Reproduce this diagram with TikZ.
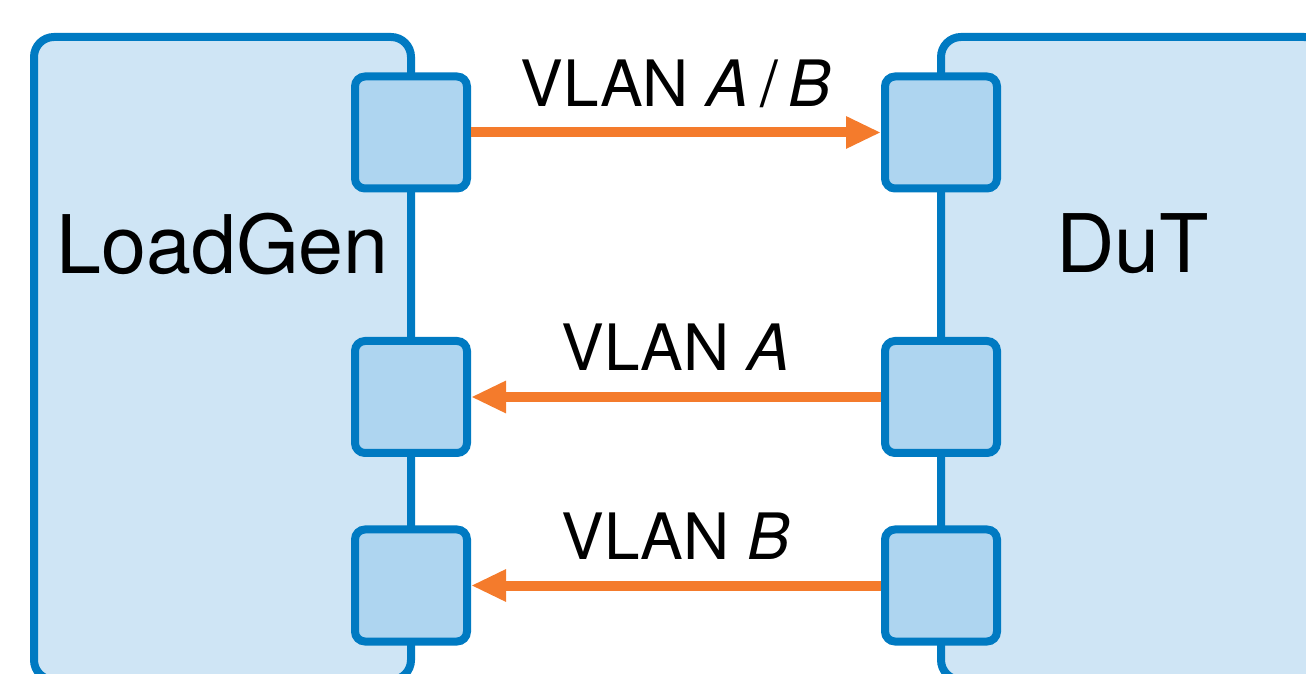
\documentclass[tikz,border=0pt]{standalone}
\usepackage{fontspec}
\setmainfont{TeX Gyre Heros}
\usepackage{tikz}
\usetikzlibrary{arrows.meta, positioning, calc}

\definecolor{devblue}{RGB}{0,122,194}
\definecolor{devfill}{RGB}{207,229,245}
\definecolor{portfill}{RGB}{174,213,240}
\definecolor{linkorange}{RGB}{244,123,44}

\begin{document}
\begin{tikzpicture}[
    % Device and port styles
    device/.style={draw=devblue, fill=devfill, line width=0.08cm, rounded corners=0.2cm,
                   minimum height=6.43cm, outer sep=0pt, inner sep=0pt},
    port/.style={draw=devblue, fill=portfill, line width=0.08cm, rounded corners=0.1cm,
                 minimum size=1.12cm, inner sep=0pt},
    devtext/.style={font=\fontsize{23}{27}\selectfont, anchor=base},
    % Link styles
    link/.style={draw=linkorange, line width=0.1cm, -{Triangle[length=0.35cm, width=0.3cm]}},
    vlanlabel/.style={font=\fontsize{18.2}{22}\selectfont, anchor=base, yshift=2.6mm}
]

\useasboundingbox (0,0) rectangle (13.06,6.73);
\clip (0,0) rectangle (13.06,6.73);

% Devices
\node[device, minimum width=3.77cm] (loadgen) at (2.225,3.145) {};
\node[device, minimum width=3.83cm] (dut) at (11.325,3.145) {};
\node[devtext] (lgtext) at ([yshift=8.45mm]loadgen.center) {LoadGen};
\node[devtext] (duttext) at ([yshift=8.55mm]dut.center) {DuT};

% Ports on both devices
\foreach \i/\y in {1/5.405, 2/2.76, 3/0.875} {
    \node[port] (lg\i) at (loadgen.east |- 0,\y) {};
    \node[port] (dut\i) at (dut.west |- 0,\y) {};
}

% Links
\draw[link] (lg1) -- (dut1) node[vlanlabel, midway] (vlanab) {VLAN \textit{A}\,/\,\textit{B}};
\draw[link] (dut2) -- (lg2) node[vlanlabel, midway] (vlana) {VLAN \textit{A}};
\draw[link] (dut3) -- (lg3) node[vlanlabel, midway] (vlanb) {VLAN \textit{B}};

\end{tikzpicture}
\end{document}
